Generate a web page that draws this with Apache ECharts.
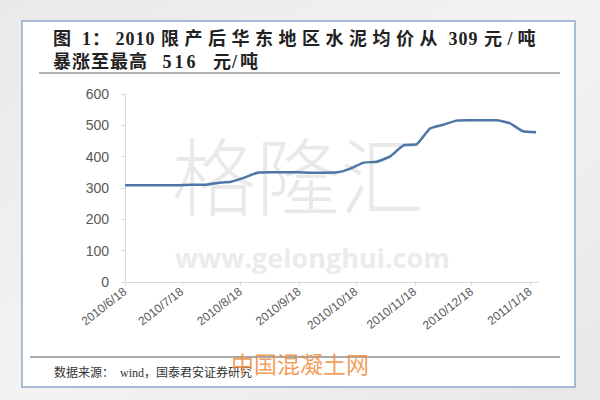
<!DOCTYPE html>
<html>
<head>
<meta charset="utf-8">
<script src="https://cdn.jsdelivr.net/npm/echarts@6/dist/echarts.min.js"></script>
<style>
html,body{margin:0;padding:0;background:#efefef;}
#chart{width:600px;height:400px;}
</style>
</head>
<body>
<div id="chart"></div>
<script>
// Weekly observation dates
var dates = [
  '2010-06-18','2010-06-25','2010-07-02','2010-07-09','2010-07-16','2010-07-23','2010-07-30',
  '2010-08-06','2010-08-13','2010-08-20','2010-08-27','2010-09-03','2010-09-10','2010-09-17',
  '2010-09-24','2010-10-01','2010-10-08','2010-10-15','2010-10-22','2010-10-29','2010-11-05',
  '2010-11-12','2010-11-19','2010-11-26','2010-12-03','2010-12-10','2010-12-17','2010-12-24',
  '2010-12-31','2011-01-07','2011-01-14','2011-01-21'
];
// East China average cement price (元/吨)
var prices = [
  309,309,309,309,309,310,310,
  316,320,333,349,350,350,350,
  349,349,350,362,381,384,401,
  436,440,490,502,515,516,516,
  516,507,481,478
];
// x-axis tick labels
var tickDates = ['2010-06-18','2010-07-18','2010-08-18','2010-09-18','2010-10-18','2010-11-18','2010-12-18','2011-01-18'];
var yTicks = [0,100,200,300,400,500,600];

var titleLine1 = '图 1：2010 限产后华东地区水泥均价从 309 元/吨';
var titleLine2 = '暴涨至最高 516 元/吨';
var sourceText = '数据来源：  wind，国泰君安证券研究';

function ts(s){ var p = s.split('-'); return new Date(+p[0], +p[1]-1, +p[2]).getTime(); }
function fmt(v){ var d = new Date(v); return d.getFullYear() + '/' + (d.getMonth()+1) + '/' + d.getDate(); }

var seriesData = dates.map(function(d,i){ return [ts(d), prices[i]]; });
var tickVals = tickDates.map(ts);

var chart = echarts.init(document.getElementById('chart'), null, { renderer: 'svg' });
chart.setOption({
  backgroundColor: {
    type: 'linear', x: 0, y: 0, x2: 1, y2: 1,
    colorStops: [{ offset: 0, color: '#e9e9e9' }, { offset: 0.5, color: '#f3f3f3' }, { offset: 1, color: '#e7e7e7' }]
  },
  animation: false,
  grid: { left: 125, right: 62, top: 94, bottom: 118 },
  xAxis: {
    type: 'value',
    min: ts('2010-06-18'),
    max: ts('2011-01-22'),
    axisLine: { show: true, lineStyle: { color: '#d9d9d9', width: 1 } },
    axisTick: { show: true, customValues: tickVals, length: 4, lineStyle: { color: '#d9d9d9' } },
    axisLabel: {
      customValues: tickVals,
      rotate: 38,
      margin: 8,
      color: '#595959',
      fontSize: 12,
      fontFamily: 'Liberation Sans',
      formatter: function(v){ return fmt(v); }
    },
    splitLine: { show: false }
  },
  yAxis: {
    type: 'value',
    min: yTicks[0],
    max: yTicks[yTicks.length-1],
    interval: 100,
    axisLine: { show: true, lineStyle: { color: '#d9d9d9', width: 1 } },
    axisTick: { show: true, length: 4, lineStyle: { color: '#d9d9d9' } },
    axisLabel: { margin: 16, color: '#595959', fontSize: 14, fontFamily: 'Liberation Sans' },
    splitLine: { show: false }
  },
  graphic: [
    { type: 'rect', z: -20, shape: { x: 22, y: 21, width: 553, height: 366 },
      style: { fill: '#ffffff', stroke: '#8eabc8', lineWidth: 1.5 } },
    { type: 'text', z: -10, x: 172, y: 130,
      style: { text: '格隆汇', fill: '#e9e9e9', font: '300 84px "Noto Sans CJK SC"' } },
    { type: 'text', z: -10, x: 175, y: 244,
      style: { text: 'www.gelonghui.com', fill: '#ebebeb', font: 'bold 27px "Open Sans"' } },
    { type: 'text', x: 53, y: 39,
      style: { text: titleLine1, fill: '#222222', verticalAlign: 'middle', font: 'bold 18px "Liberation Serif", "Noto Sans CJK SC"' } },
    { type: 'text', x: 53, y: 62,
      style: { text: titleLine2, fill: '#222222', verticalAlign: 'middle', font: 'bold 18px "Liberation Serif", "Noto Sans CJK SC"' } },
    { type: 'line', shape: { x1: 39, y1: 73, x2: 560, y2: 73 }, style: { stroke: '#666666', lineWidth: 1.2 } },
    { type: 'line', shape: { x1: 30, y1: 357, x2: 560, y2: 357 }, style: { stroke: '#555555', lineWidth: 1.2 } },
    { type: 'text', x: 54, y: 373,
      style: { text: sourceText, fill: '#333333', verticalAlign: 'middle', font: '12px "Liberation Serif", "Noto Sans CJK SC"' } },
    { type: 'text', x: 231, y: 363, z: 100,
      style: { text: '中国混凝土网', fill: 'rgba(240,140,60,0.85)', verticalAlign: 'middle', font: '23px "Noto Sans CJK SC"' } }
  ],
  series: [{
    type: 'line',
    data: seriesData,
    showSymbol: false,
    smooth: 0.15,
    lineStyle: { color: '#4d76a6', width: 2.5 },
    z: 5
  }]
});

// Typeset the title lines like the reference: line 1 is justified, line 2 is set naturally
function spacing1(ch){
  if (ch === ' ') return 1;
  if (ch === '/') return 5;
  return ch.charCodeAt(0) > 0x2e80 ? 5.5 : 1;
}
function spacing2(ch){
  if (ch === ' ') return 10;
  if (ch === '/') return 3;
  return ch.charCodeAt(0) > 0x2e80 ? 1 : 3;
}
function spaceTitles(){
  var nodes = document.querySelectorAll('#chart text');
  for (var i = 0; i < nodes.length; i++) {
    var node = nodes[i];
    var t = node.textContent;
    var fn = t === titleLine1 ? spacing1 : (t === titleLine2 ? spacing2 : null);
    if (fn && !node.getAttribute('data-spaced')) {
      node.setAttribute('data-spaced', '1');
      while (node.firstChild) node.removeChild(node.firstChild);
      var runText = '', runSp = null;
      var flush = function(){
        if (!runText) return;
        var sp = document.createElementNS('http://www.w3.org/2000/svg', 'tspan');
        sp.setAttribute('letter-spacing', String(runSp));
        sp.style.letterSpacing = runSp + 'px';
        sp.textContent = runText;
        node.appendChild(sp);
        runText = '';
      };
      for (var k = 0; k < t.length; k++) {
        var s = fn(t[k]);
        if (s !== runSp) { flush(); runSp = s; }
        runText += t[k];
      }
      flush();
    }
  }
}
spaceTitles();
chart.on('finished', spaceTitles);
setTimeout(spaceTitles, 50);
</script>
</body>
</html>
